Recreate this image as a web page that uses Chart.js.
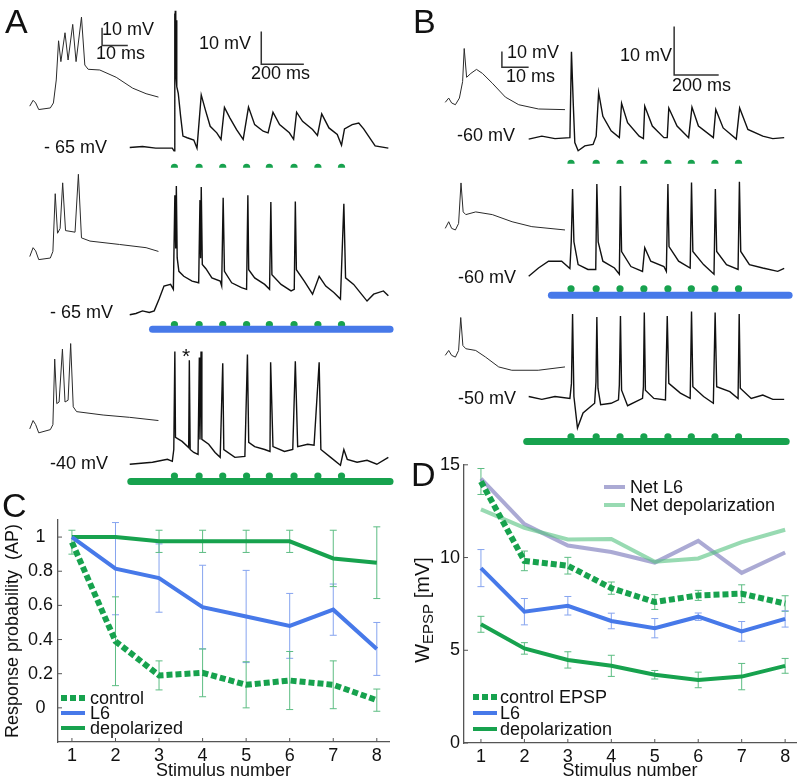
<!DOCTYPE html>
<html>
<head>
<meta charset="utf-8">
<script src="https://cdn.jsdelivr.net/npm/chart.js@4.4.1/dist/chart.umd.min.js"></script>
<style>
  html, body { margin: 0; padding: 0; background: #fff; }
  #fig { position: relative; width: 799px; height: 783px; overflow: hidden;
         font-family: "Liberation Sans", Arial, Helvetica, sans-serif; color: #111; }
  #fig canvas { position: absolute; }
  .t { position: absolute; white-space: pre; line-height: 1; transform: translateY(-50%); font-size: 18px; }
  .big { font-size: 34px; }
  .ytitle { position: absolute; white-space: nowrap; font-size: 20px; line-height: 1;
            transform: translate(-50%, -50%) rotate(-90deg); }
  .ytitle sub { font-size: 15px; vertical-align: -4px; }
</style>
</head>
<body>
<div id="fig">
  <canvas id="traces" width="799" height="783" style="left:0;top:0;width:799px;height:783px"></canvas>
  <canvas id="chartC" width="400" height="293" style="left:0;top:490px;width:400px;height:293px"></canvas>
  <canvas id="chartD" width="399" height="333" style="left:400px;top:450px;width:399px;height:333px"></canvas>

  <div class="t big" style="left:5px;top:21px">A</div>
  <div class="t big" style="left:413px;top:21px">B</div>
  <div class="t big" style="left:2px;top:505px">C</div>
  <div class="t big" style="left:411px;top:474px">D</div>

  <div class="t" style="left:102px;top:29px">10 mV</div>
  <div class="t" style="left:96px;top:53px">10 ms</div>
  <div class="t" style="left:199px;top:43px">10 mV</div>
  <div class="t" style="left:251px;top:73px">200 ms</div>
  <div class="t" style="left:44px;top:147px">- 65 mV</div>
  <div class="t" style="left:50px;top:312px">- 65 mV</div>
  <div class="t" style="left:50px;top:463px">-40 mV</div>
  <div class="t" style="left:182px;top:355px;font-size:21px">*</div>

  <div class="t" style="left:507px;top:52px">10 mV</div>
  <div class="t" style="left:506px;top:76px">10 ms</div>
  <div class="t" style="left:620px;top:55px">10 mV</div>
  <div class="t" style="left:672px;top:85px">200 ms</div>
  <div class="t" style="left:457px;top:135px">-60 mV</div>
  <div class="t" style="left:458px;top:277px">-60 mV</div>
  <div class="t" style="left:458px;top:398px">-50 mV</div>

  <div class="ytitle" style="left:423px;top:610px">W<sub>EPSP</sub> [mV]</div>
</div>

<script>
// ---- panels A / B: membrane potential traces, time [ms] and potential [mV] ----
// long recordings, A (control, L6, depolarized)
const a1Time = [0, 60, 122, 200, 208, 211, 212.5, 214, 215.5, 217, 218.5, 220, 222, 228, 239, 250, 270, 301, 316, 336, 355, 378, 409, 429, 445, 471, 502, 533, 558, 587, 627, 650, 673, 704, 750, 770, 784, 812, 859, 882, 902, 936, 975, 995, 1009, 1045, 1076, 1099, 1122, 1153, 1215];
const a1Volt = [-65.0, -64.7, -65.2, -65.2, -66.0, -24, -42, -23.1, -43, -24.5, -44, -26, -46.4, -48.4, -55.4, -61.5, -62.0, -62.7, -65.2, -48.9, -53.4, -58.5, -60.5, -62.5, -52.7, -56.0, -59.5, -62.5, -52.6, -58.0, -60.0, -60.5, -54.2, -58.0, -60.5, -62.5, -54.2, -57.0, -59.5, -61.3, -54.7, -59.0, -61.0, -64.3, -59.3, -58.0, -57.5, -59.3, -61.5, -64.5, -65.2];

const a2Time = [0, 29, 60, 92, 115, 138, 161, 192, 205, 212, 216, 219, 223, 231, 254, 293, 324, 330, 333, 336, 341, 358, 386, 425, 432, 439, 445, 479, 525, 549, 555, 559, 587, 634, 657, 663, 668, 711, 758, 773, 778, 783, 820, 859, 890, 921, 959, 990, 1006, 1014, 1052, 1083, 1115, 1146, 1192, 1215];
const a2Volt = [-65.3, -64.9, -64.1, -64.6, -64.1, -60.5, -56.5, -56.0, -57.5, -28.7, -45.0, -25.9, -47.9, -52.0, -53.5, -55.0, -55.5, -30.2, -48.0, -26.2, -49.9, -51.2, -54.0, -55.0, -56.5, -29.5, -52.0, -55.5, -57.0, -57.5, -28.7, -51.5, -54.0, -56.0, -57.5, -30.8, -53.0, -56.0, -58.0, -57.5, -30.6, -51.5, -55.0, -59.0, -53.5, -56.5, -58.5, -60.5, -31.3, -54.0, -56.0, -58.5, -61.1, -59.0, -58.0, -59.5];

const a3Time = [0, 107, 177, 200, 207, 212, 215, 246, 277, 280, 284, 301, 321, 327, 330, 335, 339, 371, 401, 425, 437, 442, 494, 541, 553, 559, 587, 634, 659, 662, 673, 727, 766, 778, 789, 836, 866, 890, 898, 944, 990, 1006, 1022, 1068, 1115, 1161, 1215];
const a3Volt = [-40.6, -40.0, -39.1, -39.7, -36.1, -6.1, -32.4, -33.6, -35.5, -8.8, -36.1, -37.0, -37.6, -7.9, -33.0, -6.1, -33.0, -34.5, -37.0, -38.5, -9.7, -36.1, -38.5, -38.2, -7.0, -33.9, -35.2, -36.1, -36.7, -9.4, -35.2, -36.7, -36.1, -9.1, -35.2, -34.5, -34.8, -9.4, -36.1, -38.5, -40.9, -36.1, -39.1, -40.0, -39.4, -40.6, -38.5];

// first response, expanded (insets of A)
const aIn1Time = [0, 1.3, 2.3, 3.5, 8.0, 9.2, 10.3, 11.2, 12.1, 13.7, 14.9, 16.7, 18.0, 20.1, 21.4, 22.7, 27.2, 33.6, 40.0, 45.2, 50.0];
const aIn1Volt = [-62.9, -59.6, -61.1, -64.8, -63.9, -61.1, -48.2, -26.2, -37.9, -21.7, -37.0, -17.0, -37.9, -12.9, -39.8, -42.2, -42.6, -46.7, -52.8, -55.9, -57.8];
const aIn2Time = [0, 1.3, 2.3, 3.5, 8.0, 9.0, 9.9, 10.8, 11.8, 12.8, 13.9, 17.6, 18.9, 20.1, 23.4, 34.9, 45.2, 50.0];
const aIn2Volt = [-64.0, -59.0, -60.8, -65.7, -64.8, -61.1, -28.7, -50.9, -48.2, -22.6, -49.4, -50.3, -17.8, -53.5, -55.3, -57.2, -59.0, -61.1];
const aIn3Time = [0, 1.3, 2.3, 3.5, 8.0, 9.0, 9.7, 10.5, 11.4, 12.7, 13.7, 14.9, 15.9, 16.9, 18.2, 28.5, 38.8, 50.0];
const aIn3Volt = [-38.5, -33.8, -36.1, -40.7, -38.9, -36.1, 0.7, -24.3, -23.4, 6.3, -23.4, -22.4, 9.4, -26.1, -28.8, -30.7, -32.0, -33.8];

// long recordings, B
const b1Time = [0, 59, 118, 185, 192, 200, 207, 222, 252, 289, 303, 314, 333, 370, 407, 417, 444, 496, 515, 521, 555, 607, 622, 629, 666, 718, 733, 762, 829, 840, 873, 932, 947, 984, 1051, 1096, 1147];
const b1Volt = [-60.1, -59.5, -60.0, -59.8, -42.1, -52.7, -60.8, -62.5, -61.5, -61.2, -59.5, -50.5, -55.4, -58.4, -59.8, -52.7, -56.7, -59.5, -60.0, -53.3, -57.4, -59.8, -59.8, -53.7, -57.4, -59.8, -53.5, -57.4, -59.8, -54.0, -57.8, -60.1, -53.7, -58.1, -59.5, -60.0, -59.8];

const b2Time = [0, 44, 89, 148, 185, 191, 197, 203, 222, 266, 301, 306, 312, 333, 385, 407, 412, 417, 459, 511, 521, 548, 607, 618, 625, 630, 673, 725, 731, 737, 785, 832, 838, 844, 888, 940, 946, 952, 991, 1051, 1118, 1147];
const b2Volt = [-59.6, -57.9, -56.5, -56.5, -58.0, -52.5, -41.6, -52.5, -57.2, -58.2, -58.2, -40.6, -52.5, -56.5, -57.9, -59.2, -41.0, -54.5, -57.6, -58.6, -53.7, -56.5, -57.6, -58.6, -40.6, -53.5, -56.5, -57.9, -40.3, -54.5, -57.2, -59.2, -41.6, -54.5, -57.2, -58.2, -40.1, -54.5, -57.2, -57.9, -58.6, -58.0];

const b3Time = [0, 59, 118, 185, 192, 197, 203, 219, 244, 296, 302, 306, 311, 323, 370, 403, 407, 412, 417, 444, 511, 515, 519, 524, 562, 614, 622, 629, 681, 725, 731, 737, 785, 829, 837, 844, 903, 940, 945, 950, 999, 1051, 1096, 1147];
const b3Volt = [-49.7, -50.3, -49.7, -50.1, -47.0, -32.7, -49.7, -56.2, -53.1, -51.1, -46.7, -33.3, -48.0, -51.4, -51.1, -50.4, -47.3, -33.1, -48.4, -51.6, -50.1, -47.7, -32.4, -48.4, -50.1, -50.4, -33.1, -47.0, -49.0, -50.1, -32.2, -47.7, -49.7, -51.1, -32.4, -47.7, -48.7, -50.1, -32.7, -48.0, -50.1, -49.4, -50.3, -50.3];

const bIn1Time = [0, 1.3, 2.4, 3.8, 5.3, 6.5, 7.1, 8.0, 9.6, 11.7, 13.9, 17.6, 22.5, 27.5, 34.9, 44.8];
const bIn1Volt = [-59.6, -56.9, -60.0, -61.1, -56.9, -46.5, -25.6, -43.8, -41.3, -38.8, -41.3, -47.5, -56.3, -61.1, -63.8, -64.2];
const bIn2Time = [0, 1.3, 2.4, 3.8, 5.0, 5.9, 6.7, 7.7, 11.4, 17.6, 25.0, 32.4, 44.8];
const bIn2Volt = [-60.0, -55.8, -60.0, -61.0, -56.9, -31.3, -49.6, -51.3, -49.6, -51.3, -55.8, -58.9, -61.0];
const bIn3Time = [0, 1.3, 2.4, 3.8, 5.0, 5.8, 6.6, 7.7, 11.4, 15.1, 20.0, 24.9, 34.8, 44.8];
const bIn3Volt = [-50.0, -46.9, -50.0, -51.1, -46.9, -26.1, -43.8, -45.8, -46.9, -51.1, -57.3, -59.4, -59.4, -57.3];

// stimulus times [ms] and stimulation periods [ms]
const stimA = [210, 326, 437, 549, 656, 772, 884, 995];
const stimB = [190, 303, 410, 517, 625, 730, 836, 942];
const l6StepA = [107, 1223];
const depolStepA = [5, 1223];
const l6StepB = [102, 1169];
const depolStepB = [-9, 1156];

// ---- panel C: response probability ----
const stimulus = [1, 2, 3, 4, 5, 6, 7, 8];
const cControl = [0.97, 0.39, 0.19, 0.205, 0.135, 0.16, 0.135, 0.045];
const cControlErr = [0.07, 0.26, 0.085, 0.14, 0.135, 0.17, 0.14, 0.065];
const cL6 = [1.0, 0.815, 0.76, 0.59, 0.535, 0.48, 0.575, 0.345];
const cL6Err = [0, 0.27, 0.2, 0.245, 0.27, 0.19, 0.15, 0.155];
const cDepol = [1.0, 1.0, 0.975, 0.975, 0.975, 0.975, 0.875, 0.85];
const cDepolErr = [0, 0, 0.065, 0.065, 0.065, 0.065, 0.165, 0.21];
const cTicksY = [0, 0.2, 0.4, 0.6, 0.8, 1];

// ---- panel D: W_EPSP [mV] ----
const dControl = [14.1, 9.82, 9.56, 8.35, 7.6, 7.96, 8.05, 7.52];
const dControlErr = [0.7, 0.53, 0.45, 0.33, 0.4, 0.27, 0.48, 0.42];
const dL6 = [9.43, 7.08, 7.4, 6.58, 6.19, 6.81, 6.02, 6.69];
const dL6Err = [1.0, 0.71, 0.5, 0.42, 0.52, 0.2, 0.53, 0.44];
const dDepol = [6.4, 5.1, 4.48, 4.16, 3.68, 3.4, 3.58, 4.16];
const dDepolErr = [0.43, 0.31, 0.44, 0.57, 0.23, 0.42, 0.71, 0.4];
const dNetL6 = [14.25, 11.8, 10.65, 10.3, 9.73, 10.9, 9.17, 10.27];
const dNetDepol = [12.6, 11.6, 10.97, 11.0, 9.77, 9.95, 10.83, 11.5];
const dTicksY = [0, 5, 10, 15];

// ---- styling ----
const FONT = '"Liberation Sans", Arial, Helvetica, sans-serif';
const GREEN = '#17a24e';
const BLUE = '#4779e9';
const GREEN_ERR = '#5dbd83';
const BLUE_ERR = '#86a4ef';
const NET_L6 = 'rgba(128,126,190,0.66)';
const NET_DEPOL = 'rgba(88,196,130,0.62)';
const AXIS = '#555';

// where each trace sits on the page: x of t=0, y of reference potential, ms per px, mV per px
const W = 799, H = 783;
const PLACE = {
  a1: [127, 145, -65, 200 / 43, 10 / 33],
  a2: [127, 313, -65, 200 / 43, 10 / 33],
  a3: [127, 463, -40, 200 / 43, 10 / 33],
  ai1: [26, 107, -65, 10 / 26, 10 / 18],
  ai2: [26, 257, -65, 10 / 26, 10 / 18],
  ai3: [26, 432, -40, 10 / 26, 10 / 18],
  b1: [530, 136, -60, 200 / 45, 10 / 49],
  b2: [530, 277, -60, 200 / 45, 10 / 49],
  b3: [530, 398, -50, 200 / 45, 10 / 49],
  bi1: [445.7, 100, -60, 10 / 27, 10 / 16],
  bi2: [445.7, 226.7, -60, 10 / 27, 10 / 16],
  bi3: [445.7, 355, -50, 10 / 27, 10 / 16],
};

const traceScales = {};
for (const [k, [x0, y0, vRef, msPx, mvPx]] of Object.entries(PLACE)) {
  traceScales['x' + k] = { type: 'linear', axis: 'x', display: false, min: -x0 * msPx, max: (W - x0) * msPx };
  traceScales['y' + k] = { type: 'linear', axis: 'y', display: false, min: vRef - (H - y0) * mvPx, max: vRef + y0 * mvPx };
}

const pts = (xs, ys) => xs.map((x, i) => ({ x, y: ys[i] }));

function trace(k, time, volt, inset) {
  return {
    data: pts(time, volt), xAxisID: 'x' + k, yAxisID: 'y' + k,
    borderColor: inset ? '#2a2a2a' : '#111', borderWidth: inset ? 1 : 1.4,
    pointRadius: 0, showLine: true,
  };
}

// scale bar: vertical dv [mV] then horizontal dt [ms] from corner (t, v)
function scaleBar(k, t, v, dt, dv) {
  return {
    data: [{ x: t, y: v + dv }, { x: t, y: v }, { x: t + dt, y: v }], xAxisID: 'x' + k, yAxisID: 'y' + k,
    borderColor: '#333', borderWidth: 1.5, pointRadius: 0, showLine: true,
  };
}

function stepBar(k, period, v, color) {
  return {
    data: [{ x: period[0], y: v }, { x: period[1], y: v }], xAxisID: 'x' + k, yAxisID: 'y' + k,
    borderColor: color, borderWidth: 7, borderCapStyle: 'round', pointRadius: 0, showLine: true,
  };
}

function stimDots(k, times, v) {
  return {
    data: times.map(t => ({ x: t, y: v })), xAxisID: 'x' + k, yAxisID: 'y' + k,
    showLine: false, pointRadius: 3.6, pointBorderWidth: 0, pointBackgroundColor: GREEN,
  };
}

// first dataset is drawn on top: traces, then bars, then stimulus dots
const traceDatasets = [
  trace('a1', a1Time, a1Volt), trace('a2', a2Time, a2Volt), trace('a3', a3Time, a3Volt),
  trace('ai1', aIn1Time, aIn1Volt, true), trace('ai2', aIn2Time, aIn2Volt, true), trace('ai3', aIn3Time, aIn3Volt, true),
  trace('b1', b1Time, b1Volt), trace('b2', b2Time, b2Volt), trace('b3', b3Time, b3Volt),
  trace('bi1', bIn1Time, bIn1Volt, true), trace('bi2', bIn2Time, bIn2Volt, true), trace('bi3', bIn3Time, bIn3Volt, true),
  scaleBar('ai1', 28.1, -28.9, 10, 10),
  scaleBar('a1', 618, -39.5, 200, 10),
  scaleBar('bi1', 21.2, -37.5, 10, 10),
  scaleBar('b1', 653, -46.9, 200, 10),
  stepBar('a1', [100, 1223], -72.3, '#fff'),   // control row: no current step
  stepBar('a2', l6StepA, -69.7, BLUE),
  stepBar('a3', depolStepA, -45.9, GREEN),
  stepBar('b1', [100, 1169], -65.9, '#fff'),
  stepBar('b2', l6StepB, -63.5, BLUE),
  stepBar('b3', depolStepB, -59.0, GREEN),
  stimDots('a1', stimA, -71.1), stimDots('a2', stimA, -68.3), stimDots('a3', stimA, -44.2),
  stimDots('b1', stimB, -65.1), stimDots('b2', stimB, -62.2), stimDots('b3', stimB, -58.0),
];

new Chart(document.getElementById('traces'), {
  type: 'scatter',
  data: { datasets: traceDatasets },
  options: {
    responsive: false, animation: false, events: [],
    layout: { padding: 0 },
    elements: { line: { tension: 0 } },
    plugins: { legend: { display: false }, tooltip: { enabled: false } },
    scales: traceScales,
  },
});

// ---- plugins for C and D ----
const errorBars = {
  id: 'errorBars',
  beforeDatasetsDraw(chart) {
    const { ctx } = chart;
    chart.data.datasets.forEach((ds, i) => {
      if (!ds.errorBars) return;
      const meta = chart.getDatasetMeta(i);
      const xs = chart.scales[meta.xAxisID], ys = chart.scales[meta.yAxisID];
      ctx.save();
      ctx.strokeStyle = ds.errorColor;
      ctx.lineWidth = 1;
      ctx.beginPath();
      ds.data.forEach((p, j) => {
        const e = ds.errorBars[j];
        if (!e) return;
        const x = xs.getPixelForValue(p.x);
        const top = ys.getPixelForValue(p.y + e), bot = ys.getPixelForValue(p.y - e);
        ctx.moveTo(x, top); ctx.lineTo(x, bot);
        ctx.moveTo(x - 3.5, top); ctx.lineTo(x + 3.5, top);
        ctx.moveTo(x - 3.5, bot); ctx.lineTo(x + 3.5, bot);
      });
      ctx.stroke();
      ctx.restore();
    });
  },
};

const inwardTicks = {
  id: 'inwardTicks',
  afterDatasetsDraw(chart) {
    const { ctx, chartArea: a, scales: { x, y } } = chart;
    ctx.save();
    ctx.strokeStyle = AXIS;
    ctx.lineWidth = 1;
    ctx.beginPath();
    x.ticks.forEach(t => { const px = x.getPixelForValue(t.value); ctx.moveTo(px, a.bottom); ctx.lineTo(px, a.bottom - 4); });
    y.ticks.forEach(t => { const py = y.getPixelForValue(t.value); ctx.moveTo(a.left, py); ctx.lineTo(a.left + 4, py); });
    ctx.stroke();
    ctx.restore();
  },
};

// legend entries drawn where the figure has them, styled from their datasets
const inlineLegend = {
  id: 'inlineLegend',
  afterDraw(chart, args, opts) {
    const { ctx } = chart;
    ctx.save();
    ctx.font = `18px ${FONT}`;
    ctx.textBaseline = 'middle';
    ctx.fillStyle = '#111';
    for (const e of opts.entries) {
      const ds = chart.data.datasets[e.index];
      ctx.strokeStyle = ds.borderColor;
      ctx.lineWidth = ds.borderWidth;
      ctx.lineCap = 'butt';
      ctx.setLineDash(ds.borderDash || []);
      ctx.beginPath();
      ctx.moveTo(e.x, e.y);
      ctx.lineTo(e.x + e.len, e.y);
      ctx.stroke();
      ctx.setLineDash([]);
      ctx.fillText(ds.label, e.x + e.len + e.gap, e.y + 1);
    }
    ctx.restore();
  },
};

const tickFont = { family: FONT, size: 18 };

function axisX(min, max, height) {
  return {
    type: 'linear', min, max,
    afterBuildTicks: s => { s.ticks = stimulus.map(v => ({ value: v })); },
    afterFit: s => { s.height = height; },
    grid: { display: false, drawTicks: false },
    border: { color: AXIS, width: 1.3 },
    ticks: { padding: 3, color: '#111', font: tickFont },
    title: { display: true, text: 'Stimulus number', color: '#111', font: tickFont, padding: { top: 0, bottom: 1 } },
  };
}

// ---- panel C ----
new Chart(document.getElementById('chartC'), {
  type: 'line',
  data: {
    datasets: [
      { label: 'L6', data: pts(stimulus, cL6), borderColor: BLUE, borderWidth: 4, errorBars: cL6Err, errorColor: BLUE_ERR },
      { label: 'control', data: pts(stimulus, cControl), borderColor: GREEN, borderWidth: 6, borderDash: [6, 3], errorBars: cControlErr, errorColor: GREEN_ERR },
      { label: 'depolarized', data: pts(stimulus, cDepol), borderColor: GREEN, borderWidth: 4, errorBars: cDepolErr, errorColor: GREEN_ERR },
    ],
  },
  options: {
    responsive: false, animation: false, events: [],
    layout: { padding: { left: 0, top: 30, right: 11, bottom: 0 } },
    elements: { point: { radius: 0 }, line: { tension: 0, borderCapStyle: 'butt' } },
    plugins: {
      legend: { display: false }, tooltip: { enabled: false },
      inlineLegend: { entries: [
        { index: 1, x: 61, y: 208, len: 24, gap: 5 },
        { index: 0, x: 61, y: 223, len: 24, gap: 5 },
        { index: 2, x: 61, y: 238, len: 24, gap: 5 },
      ] },
    },
    scales: {
      x: axisX(0.68, 8.28, 41),
      y: {
        type: 'linear', min: -0.2, max: 1.1,
        afterBuildTicks: s => { s.ticks = cTicksY.map(v => ({ value: v })); },
        afterFit: s => { s.width = 58; },
        grid: { display: false, drawTicks: false },
        border: { color: AXIS, width: 1.3 },
        ticks: { padding: 5, crossAlign: 'center', color: '#111', font: tickFont,
                 callback: v => (v === 0 || v === 1) ? String(v) : v.toFixed(1) },
        title: { display: true, text: 'Response probability  (AP)', color: '#111', font: tickFont, padding: { top: 2, bottom: 0 } },
      },
    },
  },
  plugins: [errorBars, inwardTicks, inlineLegend],
});

// ---- panel D ----
new Chart(document.getElementById('chartD'), {
  type: 'line',
  data: {
    datasets: [
      { label: 'control EPSP', data: pts(stimulus, dControl), borderColor: GREEN, borderWidth: 6, borderDash: [6, 3], errorBars: dControlErr, errorColor: GREEN_ERR },
      { label: 'L6', data: pts(stimulus, dL6), borderColor: BLUE, borderWidth: 4, errorBars: dL6Err, errorColor: BLUE_ERR },
      { label: 'depolarization', data: pts(stimulus, dDepol), borderColor: GREEN, borderWidth: 4, errorBars: dDepolErr, errorColor: GREEN_ERR },
      { label: 'Net depolarization', data: pts(stimulus, dNetDepol), borderColor: NET_DEPOL, borderWidth: 4 },
      { label: 'Net L6', data: pts(stimulus, dNetL6), borderColor: NET_L6, borderWidth: 4 },
    ],
  },
  options: {
    responsive: false, animation: false, events: [],
    layout: { padding: { left: 0, top: 11, right: 3, bottom: 0 } },
    elements: { point: { radius: 0 }, line: { tension: 0, borderCapStyle: 'butt' } },
    plugins: {
      legend: { display: false }, tooltip: { enabled: false },
      inlineLegend: { entries: [
        { index: 4, x: 204, y: 37, len: 21, gap: 5 },
        { index: 3, x: 204, y: 55, len: 21, gap: 5 },
        { index: 0, x: 73, y: 247, len: 24, gap: 3 },
        { index: 1, x: 73, y: 263, len: 24, gap: 3 },
        { index: 2, x: 73, y: 279, len: 24, gap: 3 },
      ] },
    },
    scales: {
      x: axisX(0.61, 8.25, 40),
      y: {
        type: 'linear', min: 0, max: 15,
        afterBuildTicks: s => { s.ticks = dTicksY.map(v => ({ value: v })); },
        afterFit: s => { s.width = 64; },
        grid: { display: false, drawTicks: false },
        border: { color: AXIS, width: 1.3 },
        ticks: { padding: 4, color: '#111', font: tickFont },
      },
    },
  },
  plugins: [errorBars, inwardTicks, inlineLegend],
});
</script>
</body>
</html>
